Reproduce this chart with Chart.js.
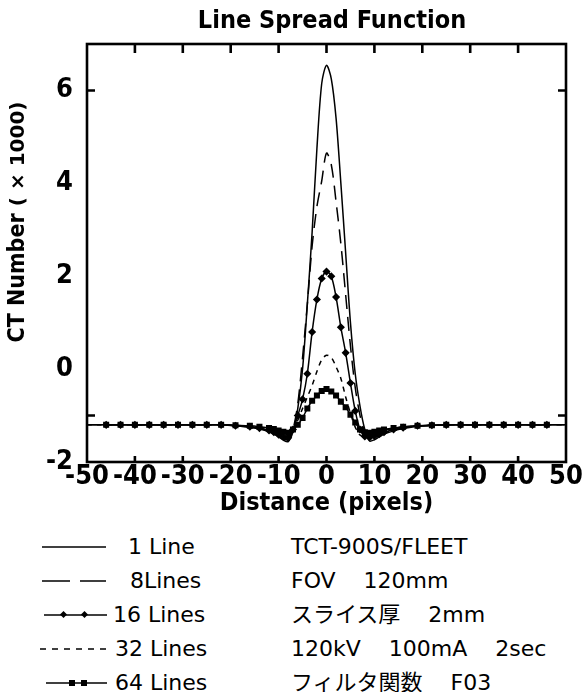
<!DOCTYPE html>
<html>
<head>
<meta charset="utf-8">
<script src="https://cdn.jsdelivr.net/npm/chart.js@4/dist/chart.umd.min.js"></script>
<style>
  body { margin: 0; background: #fff; }
  .page { position: relative; width: 588px; height: 692px; overflow: hidden; background: #fff; }
  #lsf { position: absolute; left: 0; top: 0; }
  .chart-title {
    position: absolute; left: 132px; top: 5px; width: 400px; line-height: 30px; text-align: center;
    font: bold 25px "DejaVu Sans Condensed", "DejaVu Sans", sans-serif; color: #000;
  }
  .y-title {
    position: absolute; left: -132px; top: 207px; width: 300px; height: 30px; line-height: 30px;
    text-align: center; transform: rotate(-90deg); color: #000; white-space: pre;
  }
  .y-title .main { font: bold 23px "DejaVu Sans Condensed", "DejaVu Sans", sans-serif; }
  .y-title .unit { font: bold 20px "DejaVu Sans", sans-serif; }
  .legend-row { position: absolute; left: 0; width: 588px; height: 34px; }
  .legend-row svg { position: absolute; left: 37px; top: 7px; }
  .legend-label, .legend-spec {
    position: absolute; top: 0; line-height: 34px; font-size: 22px; color: #000;
    font-family: "DejaVu Sans", "Noto Sans CJK JP", sans-serif; white-space: pre;
  }
  .legend-spec { left: 291px; }
</style>
</head>
<body>
<div class="page">
  <canvas id="lsf" width="588" height="520"></canvas>
  <div class="chart-title">Line Spread Function</div>
  <div class="y-title"><span class="main">CT Number </span><span class="unit">( × 1000)</span></div>
  <div id="legend"></div>
</div>
<script>
// x positions (pixels) shared by all series
const distance = [-50, -46, -43, -40, -37, -34, -31, -28, -25, -22, -19, -16, -14, -12, -11, -10,
  -9, -8, -7, -6, -5, -4, -3, -2, -1, 0, 1, 2, 3, 4, 5, 6, 7, 8, 9, 10, 11, 12, 14, 16,
  19, 22, 25, 28, 31, 34, 37, 40, 43, 46, 50];

// CT number (x1000)
const oneLine = [-1.2, -1.2, -1.2, -1.2, -1.2, -1.2, -1.2, -1.2, -1.2, -1.2, -1.22, -1.25, -1.29, -1.35, -1.4, -1.46,
  -1.53, -1.56, -1.35, -0.85, 0.0, 1.4, 2.95, 4.75, 6.15, 6.54, 6.25, 5.4, 4.0, 2.5, 1.0, -0.1, -0.8, -1.3, -1.55, -1.52, -1.46, -1.4, -1.33, -1.28,
  -1.23, -1.21, -1.2, -1.2, -1.2, -1.2, -1.2, -1.2, -1.2, -1.2, -1.2];
const eightLines = [-1.2, -1.2, -1.2, -1.2, -1.2, -1.2, -1.2, -1.2, -1.2, -1.2, -1.22, -1.25, -1.28, -1.33, -1.38, -1.44,
  -1.5, -1.52, -1.3, -0.75, 0.25, 1.4, 2.65, 3.5, 4.05, 4.65, 4.4, 3.6, 2.7, 1.6, 0.5, -0.4, -1.0, -1.35, -1.5, -1.48, -1.43, -1.38, -1.31, -1.27,
  -1.22, -1.21, -1.2, -1.2, -1.2, -1.2, -1.2, -1.2, -1.2, -1.2, -1.2];
const sixteenLines = [null, -1.2, -1.2, -1.2, -1.2, -1.2, -1.2, -1.2, -1.2, -1.2, -1.22, -1.24, -1.27, -1.32, -1.36, -1.41,
  -1.46, -1.48, -1.3, -1.0, -0.65, -0.1, 0.8, 1.5, 1.95, 2.1, 2.0, 1.55, 0.9, 0.35, -0.3, -0.9, -1.3, -1.45, -1.47, -1.44, -1.4, -1.36, -1.3, -1.26,
  -1.22, -1.21, -1.2, -1.2, -1.2, -1.2, -1.2, -1.2, -1.2, -1.2, null];
const thirtyTwoLines = [-1.2, -1.2, -1.2, -1.2, -1.2, -1.2, -1.2, -1.2, -1.2, -1.2, -1.21, -1.23, -1.26, -1.3, -1.33, -1.37,
  -1.42, -1.44, -1.3, -1.1, -0.85, -0.6, -0.35, -0.05, 0.2, 0.3, 0.25, 0.05, -0.2, -0.6, -0.95, -1.25, -1.42, -1.46, -1.44, -1.4, -1.36, -1.32, -1.28, -1.25,
  -1.22, -1.21, -1.2, -1.2, -1.2, -1.2, -1.2, -1.2, -1.2, -1.2, -1.2];
const sixtyFourLines = [null, -1.2, -1.2, -1.2, -1.2, -1.2, -1.2, -1.2, -1.2, -1.2, -1.21, -1.22, -1.24, -1.27, -1.29, -1.32,
  -1.35, -1.37, -1.3, -1.2, -1.05, -0.85, -0.68, -0.57, -0.47, -0.43, -0.48, -0.57, -0.7, -0.82, -0.98, -1.15, -1.3, -1.36, -1.37, -1.35, -1.32, -1.3, -1.27, -1.24,
  -1.22, -1.21, -1.2, -1.2, -1.2, -1.2, -1.2, -1.2, -1.2, -1.2, null];

const yTickValues = [6, 4, 2, 0, -2];
const xMarks = [-40, -30, -20, -10, 0, 10, 20, 30, 40];
const yMarks = [6, -1];

const seriesLabels = ['1 Line', '8Lines', '16 Lines', '32 Lines', '64 Lines'];
const specLines = ['TCT-900S/FLEET', 'FOV    120mm', 'スライス厚    2mm', '120kV    100mA    2sec', 'フィルタ関数    F03'];

const axisFont = '"DejaVu Sans Condensed", "DejaVu Sans", sans-serif';

function points(values) {
  return distance.map((x, i) => ({ x, y: values[i] }));
}

const framePlugin = {
  id: 'frame',
  afterDatasetsDraw(chart) {
    const { ctx, chartArea: a, scales } = chart;
    ctx.save();
    ctx.strokeStyle = '#000';
    ctx.lineWidth = 2.6;
    ctx.strokeRect(a.left, a.top, a.right - a.left, a.bottom - a.top);
    ctx.beginPath();
    xMarks.forEach((v) => {
      const px = scales.x.getPixelForValue(v);
      ctx.moveTo(px, a.top);
      ctx.lineTo(px, a.top + 9);
      ctx.moveTo(px, a.bottom);
      ctx.lineTo(px, a.bottom - 6);
    });
    yMarks.forEach((v) => {
      const py = scales.y.getPixelForValue(v);
      ctx.moveTo(a.left, py);
      ctx.lineTo(a.left + 8, py);
      ctx.moveTo(a.right, py);
      ctx.lineTo(a.right - 8, py);
    });
    ctx.stroke();
    ctx.restore();
  },
};

const common = { borderColor: '#000', backgroundColor: '#000', borderWidth: 1.5, tension: 0.3 };

new Chart(document.getElementById('lsf'), {
  type: 'line',
  data: {
    datasets: [
      { ...common, label: seriesLabels[0], data: points(oneLine), pointRadius: 0 },
      { ...common, label: seriesLabels[1], data: points(eightLines), pointRadius: 0, borderDash: [14, 8] },
      { ...common, label: seriesLabels[2], data: points(sixteenLines), pointStyle: 'rectRot', pointRadius: 3 },
      { ...common, label: seriesLabels[3], data: points(thirtyTwoLines), pointRadius: 0, borderDash: [5, 5] },
      { ...common, label: seriesLabels[4], data: points(sixtyFourLines), pointStyle: 'rect', pointRadius: 3.2 },
    ],
  },
  options: {
    responsive: false,
    animation: false,
    layout: { padding: { left: 0, right: 22, top: 44, bottom: 0 } },
    plugins: {
      legend: { display: false },
      tooltip: { enabled: false },
    },
    scales: {
      x: {
        type: 'linear',
        min: -50,
        max: 50,
        grid: { display: false, drawTicks: false },
        border: { display: false },
        ticks: {
          stepSize: 10,
          autoSkip: false,
          maxRotation: 0,
          color: '#000',
          padding: 1,
          font: { family: axisFont, size: 27, weight: 'bold', lineHeight: 1 },
        },
        title: {
          display: true,
          text: 'Distance (pixels)',
          color: '#000',
          font: { family: axisFont, size: 25, weight: 'bold' },
          padding: { top: 0, bottom: 2 },
        },
        afterFit(scale) { scale.height = 58; },
      },
      y: {
        min: -2,
        max: 7,
        grid: { display: false, drawTicks: false },
        border: { display: false },
        afterBuildTicks(scale) { scale.ticks = yTickValues.map((value) => ({ value })); },
        ticks: {
          color: '#000',
          padding: 14,
          font: { family: axisFont, size: 27, weight: 'bold' },
        },
        afterFit(scale) { scale.width = 87; },
      },
    },
  },
  plugins: [framePlugin],
});

// legend + scan settings
const samples = [
  '<line x1="5" y1="10" x2="69" y2="10" stroke="#000" stroke-width="1.5"/>',
  '<line x1="5" y1="10" x2="69" y2="10" stroke="#000" stroke-width="1.5" stroke-dasharray="28 10"/>',
  '<line x1="7" y1="10" x2="70" y2="10" stroke="#000" stroke-width="1.5"/><rect x="24" y="7" width="5" height="5" transform="rotate(45 26.5 9.5)"/><rect x="45" y="7" width="5" height="5" transform="rotate(45 47.5 9.5)"/>',
  '<line x1="3" y1="10" x2="70" y2="10" stroke="#000" stroke-width="1.5" stroke-dasharray="6 6"/>',
  '<line x1="9" y1="10" x2="70" y2="10" stroke="#000" stroke-width="1.5"/><rect x="32" y="7" width="6" height="6"/><rect x="44" y="7" width="6" height="6"/>',
];
const labelLeft = [128, 130, 113, 115, 115];
const rowTop = 530;
document.getElementById('legend').innerHTML = seriesLabels.map((label, i) => `
  <div class="legend-row" style="top:${rowTop + i * 34}px">
    <svg width="80" height="20">${samples[i]}</svg>
    <span class="legend-label" style="left:${labelLeft[i]}px">${label}</span>
    <span class="legend-spec">${specLines[i]}</span>
  </div>
`).join('');
</script>
</body>
</html>
